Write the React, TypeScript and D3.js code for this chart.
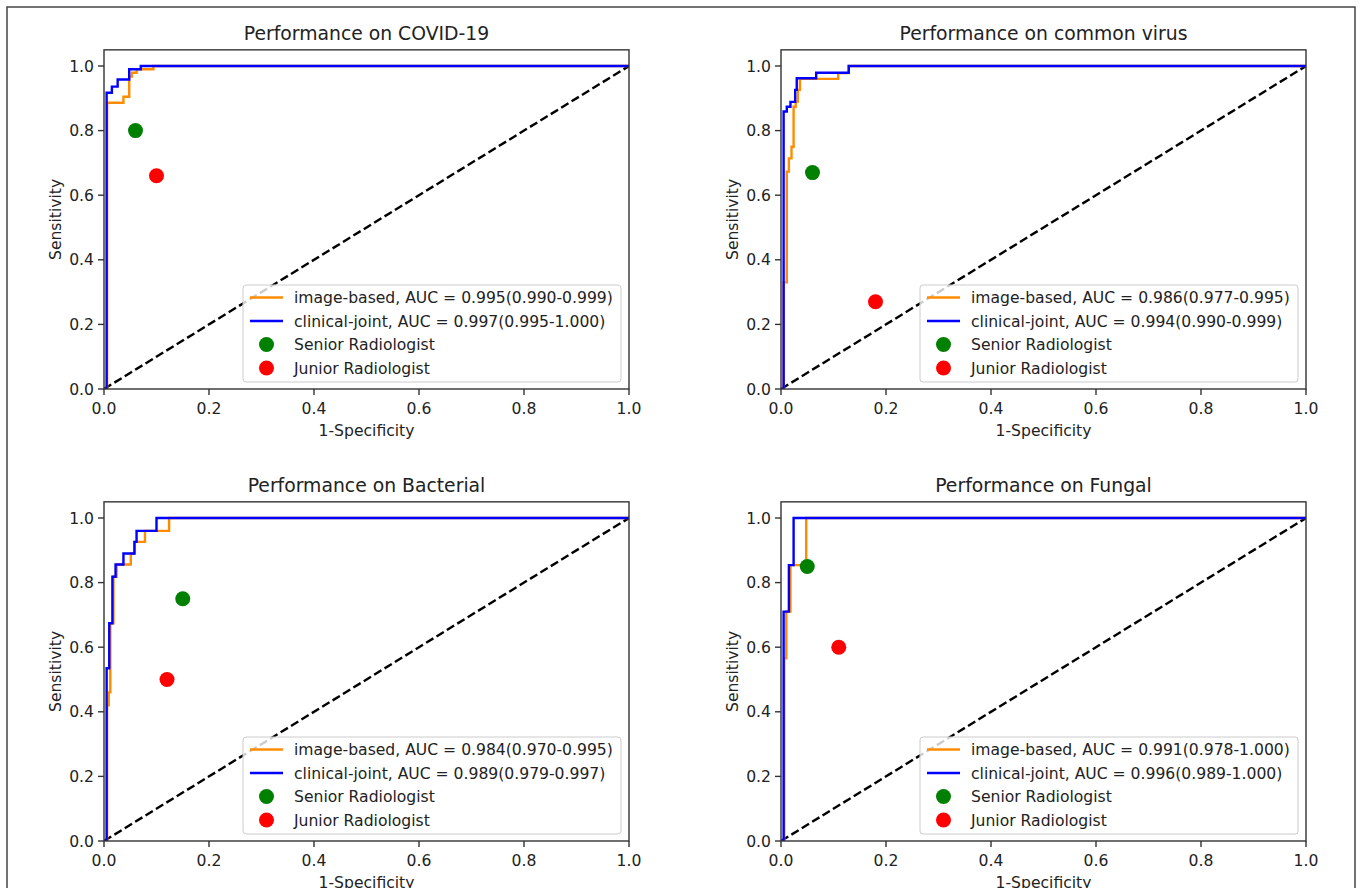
import React from "react";
import * as d3 from "d3";

// ---------- data ----------
const panelTitles = [
  "Performance on COVID-19",
  "Performance on common virus",
  "Performance on Bacterial",
  "Performance on Fungal",
];

const imageLegend = [
  "image-based, AUC = 0.995(0.990-0.999)",
  "image-based, AUC = 0.986(0.977-0.995)",
  "image-based, AUC = 0.984(0.970-0.995)",
  "image-based, AUC = 0.991(0.978-1.000)",
];
const clinicalLegend = [
  "clinical-joint, AUC = 0.997(0.995-1.000)",
  "clinical-joint, AUC = 0.994(0.990-0.999)",
  "clinical-joint, AUC = 0.989(0.979-0.997)",
  "clinical-joint, AUC = 0.996(0.989-1.000)",
];

// ROC points [fpr, tpr]
const covidImage: [number, number][] = [
  [0, 0], [0.006, 0], [0.006, 0.886], [0.037, 0.886], [0.037, 0.905], [0.048, 0.905],
  [0.048, 0.967], [0.053, 0.967], [0.053, 0.979], [0.062, 0.979], [0.062, 0.99],
  [0.094, 0.99], [0.094, 1.0], [1, 1],
];
const covidClinical: [number, number][] = [
  [0, 0], [0.005, 0], [0.005, 0.917], [0.015, 0.917], [0.015, 0.936], [0.026, 0.936],
  [0.026, 0.958], [0.048, 0.958], [0.048, 0.99], [0.07, 0.99], [0.07, 1.0], [1, 1],
];
const virusImage: [number, number][] = [
  [0, 0], [0.005, 0], [0.005, 0.33], [0.011, 0.33], [0.011, 0.673], [0.015, 0.673],
  [0.015, 0.714], [0.02, 0.714], [0.02, 0.75], [0.024, 0.75], [0.024, 0.874],
  [0.028, 0.874], [0.028, 0.89], [0.032, 0.89], [0.032, 0.926], [0.036, 0.926],
  [0.036, 0.96], [0.109, 0.96], [0.109, 0.978], [0.129, 0.978], [0.129, 1.0], [1, 1],
];
const virusClinical: [number, number][] = [
  [0, 0], [0.005, 0], [0.005, 0.859], [0.011, 0.859], [0.011, 0.874], [0.018, 0.874],
  [0.018, 0.889], [0.027, 0.889], [0.027, 0.926], [0.03, 0.926], [0.03, 0.962],
  [0.067, 0.962], [0.067, 0.979], [0.129, 0.979], [0.129, 1.0], [1, 1],
];
const bacterialImage: [number, number][] = [
  [0, 0], [0.006, 0], [0.006, 0.42], [0.009, 0.42], [0.009, 0.46], [0.012, 0.46],
  [0.012, 0.674], [0.018, 0.674], [0.018, 0.818], [0.024, 0.818], [0.024, 0.856],
  [0.051, 0.856], [0.051, 0.89], [0.058, 0.89], [0.058, 0.926], [0.078, 0.926],
  [0.078, 0.96], [0.124, 0.96], [0.124, 1.0], [1, 1],
];
const bacterialClinical: [number, number][] = [
  [0, 0], [0.005, 0], [0.005, 0.535], [0.01, 0.535], [0.01, 0.674], [0.016, 0.674],
  [0.016, 0.818], [0.022, 0.818], [0.022, 0.856], [0.037, 0.856], [0.037, 0.89],
  [0.058, 0.89], [0.058, 0.926], [0.062, 0.926], [0.062, 0.96], [0.1, 0.96],
  [0.1, 1.0], [1, 1],
];
const fungalImage: [number, number][] = [
  [0, 0], [0.006, 0], [0.006, 0.566], [0.01, 0.566], [0.01, 0.71], [0.018, 0.71],
  [0.018, 0.854], [0.048, 0.854], [0.048, 1.0], [1, 1],
];
const fungalClinical: [number, number][] = [
  [0, 0], [0.005, 0], [0.005, 0.71], [0.015, 0.71], [0.015, 0.854], [0.024, 0.854],
  [0.024, 1.0], [1, 1],
];

const imageCurves = [covidImage, virusImage, bacterialImage, fungalImage];
const clinicalCurves = [covidClinical, virusClinical, bacterialClinical, fungalClinical];

const seniorPoints: [number, number][] = [[0.06, 0.8], [0.06, 0.67], [0.15, 0.75], [0.05, 0.85]];
const juniorPoints: [number, number][] = [[0.1, 0.66], [0.18, 0.27], [0.12, 0.5], [0.11, 0.6]];

const xTicks = [0, 0.2, 0.4, 0.6, 0.8, 1.0];
const yTicks = [0, 0.2, 0.4, 0.6, 0.8, 1.0];

// ---------- layout ----------
const W = 1360;
const H = 888;
const panelLeft = [104, 781];
const panelBottom = [389, 841];
const axW = 525;
const unitH = 323;
const FONT = "'DejaVu Sans', sans-serif";
const TEXT = "#222";
const FS = 15.6;

function Panel({ idx }: { idx: number }) {
  const left = panelLeft[idx % 2];
  const bottom = panelBottom[Math.floor(idx / 2)];
  const x = d3.scaleLinear().domain([0, 1]).range([left, left + axW]);
  const y = d3.scaleLinear().domain([0, 1]).range([bottom, bottom - unitH]);
  const top = y(1.05);
  const line = d3
    .line<[number, number]>()
    .x((d) => x(d[0]))
    .y((d) => y(d[1]));

  const legW = 378;
  const legH = 97;
  const legX = x(1) - 8 - legW;
  const legY = bottom - 7 - legH;
  const rowY = (i: number) => legY + 12.5 + i * 23.5;

  return (
    <g>
      <defs>
        <clipPath id={`clip${idx}`}>
          <rect x={x(0)} y={top} width={axW} height={bottom - top} />
        </clipPath>
      </defs>
      <text
        x={x(0.5)}
        y={top - 10}
        textAnchor="middle"
        fontFamily={FONT}
        fontSize={18.8}
        fill={TEXT}
      >
        {panelTitles[idx]}
      </text>
      <g clipPath={`url(#clip${idx})`}>
        <path
          d={line([[0, 0], [1, 1]]) || ""}
          fill="none"
          stroke="#000"
          strokeWidth={2.4}
          strokeDasharray="8.5,3.7"
        />
        <path d={line(imageCurves[idx]) || ""} fill="none" stroke="#ff8c00" strokeWidth={2.4} />
        <path d={line(clinicalCurves[idx]) || ""} fill="none" stroke="#0000ff" strokeWidth={2.4} />
        <circle cx={x(seniorPoints[idx][0])} cy={y(seniorPoints[idx][1])} r={7.5} fill="#008000" />
        <circle cx={x(juniorPoints[idx][0])} cy={y(juniorPoints[idx][1])} r={7.5} fill="#ff0000" />
      </g>
      <rect
        x={x(0)}
        y={top}
        width={axW}
        height={bottom - top}
        fill="none"
        stroke="#333"
        strokeWidth={1.4}
      />
      {xTicks.map((t) => (
        <g key={`x${t}`}>
          <line x1={x(t)} x2={x(t)} y1={bottom} y2={bottom + 6} stroke="#333" strokeWidth={1.4} />
          <text
            x={x(t)}
            y={bottom + 25}
            textAnchor="middle"
            fontFamily={FONT}
            fontSize={FS}
            fill={TEXT}
          >
            {t.toFixed(1)}
          </text>
        </g>
      ))}
      {yTicks.map((t) => (
        <g key={`y${t}`}>
          <line x1={x(0) - 6} x2={x(0)} y1={y(t)} y2={y(t)} stroke="#333" strokeWidth={1.4} />
          <text
            x={x(0) - 10}
            y={y(t) + 5.5}
            textAnchor="end"
            fontFamily={FONT}
            fontSize={FS}
            fill={TEXT}
          >
            {t.toFixed(1)}
          </text>
        </g>
      ))}
      <text
        x={x(0.5)}
        y={bottom + 47}
        textAnchor="middle"
        fontFamily={FONT}
        fontSize={FS}
        fill={TEXT}
      >
        1-Specificity
      </text>
      <text
        transform={`translate(${x(0) - 43},${y(0.525)}) rotate(-90)`}
        textAnchor="middle"
        fontFamily={FONT}
        fontSize={FS}
        fill={TEXT}
      >
        Sensitivity
      </text>
      {/* legend */}
      <rect
        x={legX}
        y={legY}
        width={legW}
        height={legH}
        rx={3}
        fill="#fff"
        fillOpacity={0.8}
        stroke="#ccc"
        strokeWidth={1}
      />
      <line x1={legX + 7} x2={legX + 40} y1={rowY(0)} y2={rowY(0)} stroke="#ff8c00" strokeWidth={2.4} />
      <line x1={legX + 7} x2={legX + 40} y1={rowY(1)} y2={rowY(1)} stroke="#0000ff" strokeWidth={2.4} />
      <circle cx={legX + 23.5} cy={rowY(2)} r={7.5} fill="#008000" />
      <circle cx={legX + 23.5} cy={rowY(3)} r={7.5} fill="#ff0000" />
      {[imageLegend[idx], clinicalLegend[idx], "Senior Radiologist", "Junior Radiologist"].map(
        (s, i) => (
          <text
            key={i}
            x={legX + 51}
            y={rowY(i) + 5.5}
            fontFamily={FONT}
            fontSize={FS}
            fill={TEXT}
          >
            {s}
          </text>
        )
      )}
    </g>
  );
}

export default function App() {
  return (
    <svg
      width={W}
      height={H}
      style={{ position: "absolute", left: 0, top: 0, background: "#fff" }}
    >
      <rect x={0} y={0} width={W} height={H} fill="#fff" />
      <rect x={7} y={7} width={1348} height={H + 10} fill="none" stroke="#444" strokeWidth={1.5} />
      {[0, 1, 2, 3].map((i) => (
        <Panel key={i} idx={i} />
      ))}
    </svg>
  );
}
